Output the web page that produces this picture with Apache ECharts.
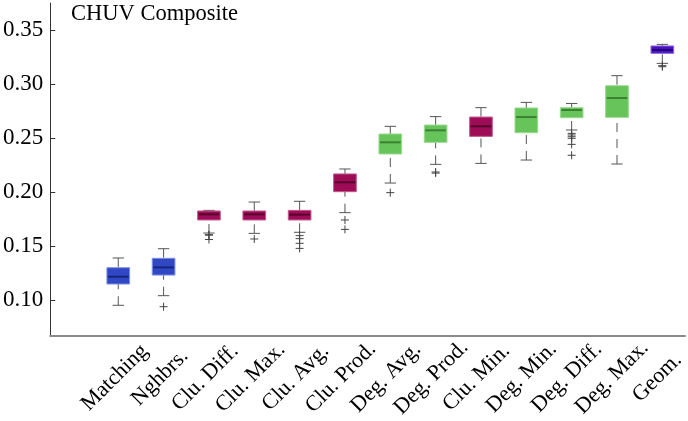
<!DOCTYPE html>
<html>
<head>
<meta charset="utf-8">
<script src="https://cdn.jsdelivr.net/npm/echarts@6/dist/echarts.min.js"></script>
<style>
html,body{margin:0;padding:0;background:#fff;}
#chart{width:688px;height:421px;}
</style>
</head>
<body>
<div id="chart"></div>
<script>
// ---- data ----
var categories = ['Matching','Nghbrs.','Clu. Diff.','Clu. Max.','Clu. Avg.','Clu. Prod.','Deg. Avg.','Deg. Prod.','Clu. Min.','Deg. Min.','Deg. Diff.','Deg. Max.','Geom.'];
var groups     = ['nb','nb','clu','clu','clu','clu','deg','deg','clu','deg','deg','deg','geom'];
var lowWhisker = [0.0951,0.1040,0.1620,0.1617,0.1627,0.1809,0.2083,0.2256,0.2265,0.2296,0.2574,0.2259,0.3191];
var q1         = [0.1148,0.1231,0.1741,0.1741,0.1741,0.2003,0.2352,0.2460,0.2515,0.2549,0.2688,0.2691,0.3284];
var median     = [0.1216,0.1302,0.1793,0.1793,0.1790,0.2090,0.2460,0.2571,0.2608,0.2694,0.2759,0.2870,0.3315];
var q3         = [0.1299,0.1386,0.1824,0.1824,0.1830,0.2167,0.2537,0.2620,0.2694,0.2778,0.2781,0.2984,0.3352];
var highWhisker= [0.1389,0.1475,0.1830,0.1907,0.1914,0.2213,0.2608,0.2698,0.2781,0.2830,0.2820,0.3077,0.3367];
var outliers   = [
  [],
  [0.0938],
  [0.1605,0.1600,0.1560],
  [0.1565],
  [0.1596,0.1568,0.1525,0.1478],
  [0.1741,0.1654],
  [0.1994],
  [0.2185,0.2175],
  [],
  [],
  [0.2543,0.2528,0.2512,0.2497,0.2441,0.2340],
  [],
  [0.3170,0.3160]
];
var yTicks = [0.10,0.15,0.20,0.25,0.30,0.35];
var titleText = 'CHUV Composite';

// ---- styles ----
var groupStyle = {
  nb:   {fill:'#3148c6', edge:'#7c8fe0', med:'#16247a'},
  clu:  {fill:'#9e0c58', edge:'#c0588c', med:'#55002c'},
  deg:  {fill:'#66c45a', edge:'#9ad890', med:'#3a8232'},
  geom: {fill:'#4c10c4', edge:'#8a66dc', med:'#260070'}
};
var FONT = '"Liberation Serif", "Times New Roman", serif';

var axisCats = [''].concat(categories);
var boxData = categories.map(function(c, i){
  return [i + 1, lowWhisker[i], q1[i], median[i], q3[i], highWhisker[i]];
});
var outlierData = [];
outliers.forEach(function(arr, i){
  arr.forEach(function(v){ outlierData.push([i + 1, v]); });
});

var chart = echarts.init(document.getElementById('chart'), null, {renderer:'canvas'});
chart.setOption({
  animation: false,
  backgroundColor: '#fff',
  title: {
    text: titleText, left: 71, top: 3, padding: 0,
    textStyle: {fontFamily: FONT, fontSize: 22.5, fontWeight: 'normal', color: '#000'}
  },
  grid: [
    {left: 50, right: 3, top: 3, bottom: 85, containLabel: false},
    {left: 47, right: 6, top: 3, bottom: 85, containLabel: false}
  ],
  xAxis: [
    {
      type: 'category', gridIndex: 0, data: axisCats, boundaryGap: true,
      axisLine: {show: true, lineStyle: {color: '#8a8a8a', width: 2}},
      axisTick: {show: false},
      axisLabel: {show: false},
      splitLine: {show: false}
    },
    {
      type: 'category', gridIndex: 1, data: axisCats, boundaryGap: true,
      axisLine: {show: false}, axisTick: {show: false}, splitLine: {show: false},
      axisLabel: {
        show: true, interval: 0, rotate: 45, margin: 47, align: 'center', verticalAlign: 'middle',
        fontFamily: FONT, fontSize: 22, color: '#000'
      }
    }
  ],
  yAxis: [
    {
      type: 'value', gridIndex: 0, min: 0.0666667, max: 0.375,
      axisLine: {show: true, lineStyle: {color: '#333', width: 1}},
      axisTick: {show: true, inside: true, length: 5, lineStyle: {color: '#333'}, customValues: yTicks},
      axisLabel: {
        show: true, margin: 7, fontFamily: FONT, fontSize: 23, color: '#000',
        customValues: yTicks,
        formatter: function(v){ return v.toFixed(2); }
      },
      splitLine: {show: false}
    },
    {type: 'value', gridIndex: 1, show: false, min: 0, max: 1}
  ],
  series: [
    {
      type: 'custom', xAxisIndex: 0, yAxisIndex: 0,
      encode: {x: 0, y: [1, 2, 3, 4, 5]},
      data: boxData,
      renderItem: function(params, api){
        var idx = api.value(0);
        var st = groupStyle[groups[idx - 1]];
        var pLow = api.coord([idx, api.value(1)]);
        var pQ1 = api.coord([idx, api.value(2)]);
        var pMed = api.coord([idx, api.value(3)]);
        var pQ3 = api.coord([idx, api.value(4)]);
        var pHigh = api.coord([idx, api.value(5)]);
        var band = api.size([1, 0])[0];
        var bw = band * 0.5;
        var cw = bw * 0.5;
        var cx = pMed[0];
        var wStyle = {stroke: '#555', lineWidth: 1, lineDash: [9, 7]};
        var capStyle = {stroke: '#555', lineWidth: 1};
        return {
          type: 'group',
          children: [
            {type: 'line', shape: {x1: cx, y1: pLow[1], x2: cx, y2: pQ1[1]}, style: wStyle},
            {type: 'line', shape: {x1: cx, y1: pHigh[1], x2: cx, y2: pQ3[1]}, style: wStyle},
            {type: 'line', shape: {x1: cx - cw / 2, y1: pLow[1], x2: cx + cw / 2, y2: pLow[1]}, style: capStyle},
            {type: 'line', shape: {x1: cx - cw / 2, y1: pHigh[1], x2: cx + cw / 2, y2: pHigh[1]}, style: capStyle},
            {type: 'rect', shape: {x: cx - bw / 2, y: pQ3[1], width: bw, height: pQ1[1] - pQ3[1]},
              style: {fill: st.fill, stroke: st.edge, lineWidth: 1}},
            {type: 'line', shape: {x1: cx - bw / 2 + 1, y1: pMed[1], x2: cx + bw / 2 - 1, y2: pMed[1]},
              style: {stroke: st.med, lineWidth: 2}}
          ]
        };
      }
    },
    {
      type: 'custom', xAxisIndex: 0, yAxisIndex: 0,
      encode: {x: 0, y: 1},
      data: outlierData,
      renderItem: function(params, api){
        var p = api.coord([api.value(0), api.value(1)]);
        var s = 4;
        var st = {stroke: '#444', lineWidth: 1};
        return {
          type: 'group',
          children: [
            {type: 'line', shape: {x1: p[0] - s, y1: p[1], x2: p[0] + s, y2: p[1]}, style: st},
            {type: 'line', shape: {x1: p[0], y1: p[1] - s, x2: p[0], y2: p[1] + s}, style: st}
          ]
        };
      }
    }
  ]
});
</script>
</body>
</html>
